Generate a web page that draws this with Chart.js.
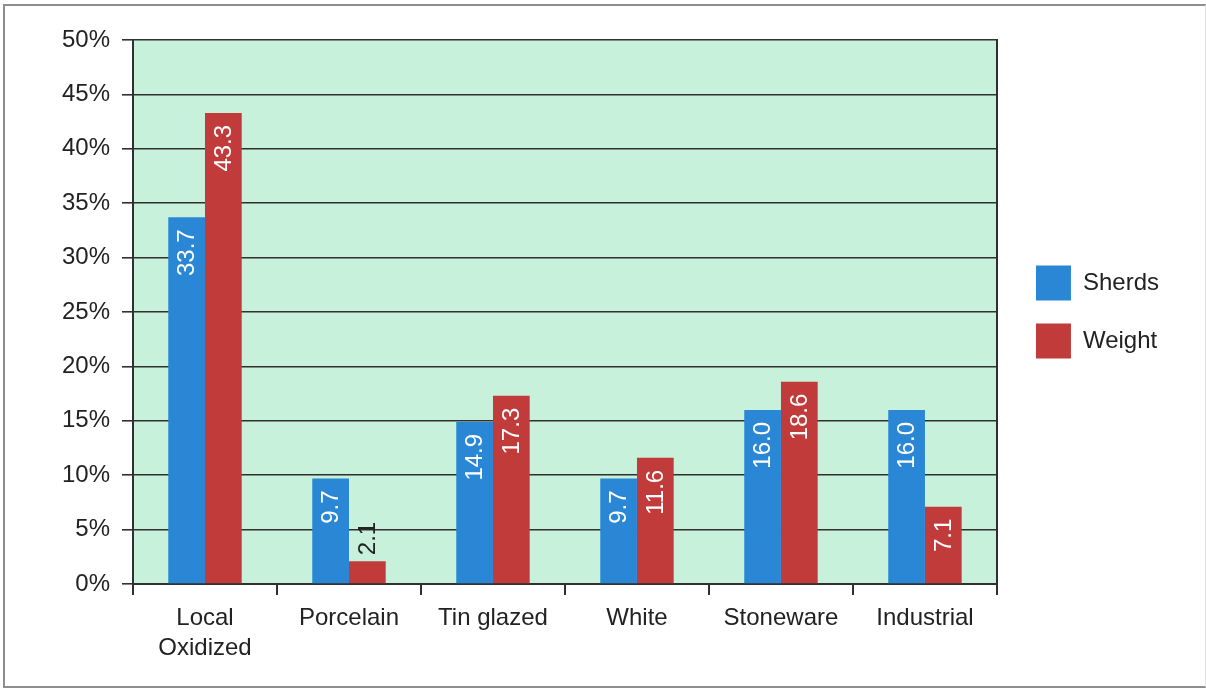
<!DOCTYPE html>
<html>
<head>
<meta charset="utf-8">
<script src="https://cdn.jsdelivr.net/npm/chart.js@4/dist/chart.umd.min.js"></script>
<style>
  html, body { margin: 0; padding: 0; background: #fff; }
  #frame {
    position: absolute; left: 3px; top: 4px; width: 1203px; height: 684px;
    box-sizing: border-box;
    border: 2px solid #8e8e8e; border-right: 1px solid #e2e2e2;
  }
  #chart { position: absolute; left: 0; top: 0; }
</style>
</head>
<body>
<div id="frame"></div>
<canvas id="chart" width="1206" height="688"></canvas>
<script>
// Share of each ware type, by sherd count and by weight (%)
const categories = [["Local", "Oxidized"], "Porcelain", "Tin glazed", "White", "Stoneware", "Industrial"]
const sherds = [33.7, 9.7, 14.9, 9.7, 16.0, 16.0]
const weight = [43.3, 2.1, 17.3, 11.6, 18.6, 7.1]
const yTicks = [0, 5, 10, 15, 20, 25, 30, 35, 40, 45, 50]

const FONT = "'Liberation Sans', Arial, Helvetica, sans-serif"
const INK = "#222"
const LINE = "#303030"

// Mint fill behind the bars
const plotBackground = {
  id: "plotBackground",
  beforeDraw(chart) {
    const { ctx, chartArea: a } = chart
    ctx.save()
    ctx.fillStyle = "#c7f1db"
    ctx.fillRect(a.left, a.top, a.right - a.left, a.bottom - a.top)
    ctx.restore()
  }
}

// Rotated value labels: inside the top of the bar, or above it when the bar is too short
const barValues = {
  id: "barValues",
  afterDatasetsDraw(chart) {
    const { ctx } = chart
    ctx.save()
    ctx.font = `24px ${FONT}`
    ctx.textBaseline = "middle"
    chart.data.datasets.forEach((ds, di) => {
      chart.getDatasetMeta(di).data.forEach((bar, i) => {
        const text = ds.data[i].toFixed(1)
        const w = ctx.measureText(text).width
        const h = bar.base - bar.y
        ctx.save()
        if (h > w + 16) {
          ctx.translate(bar.x, bar.y + 12)
          ctx.rotate(-Math.PI / 2)
          ctx.textAlign = "right"
          ctx.fillStyle = "#fff"
        } else {
          ctx.translate(bar.x, bar.y - 6)
          ctx.rotate(-Math.PI / 2)
          ctx.textAlign = "left"
          ctx.fillStyle = INK
        }
        ctx.fillText(text, 0, 1)
        ctx.restore()
      })
    })
    ctx.restore()
  }
}

new Chart(document.getElementById("chart"), {
  type: "bar",
  data: {
    labels: categories,
    datasets: [
      { label: "Sherds", data: sherds, backgroundColor: "#2a87d6", borderWidth: 0 },
      { label: "Weight", data: weight, backgroundColor: "#c13b3b", borderWidth: 0 }
    ]
  },
  options: {
    responsive: false,
    animation: false,
    categoryPercentage: 0.51,
    barPercentage: 1.0,
    layout: { padding: { top: 40, right: 37, bottom: 0, left: 0 } },
    scales: {
      x: {
        grid: { offset: true, drawOnChartArea: false, drawTicks: true, tickLength: 11, tickColor: LINE, lineWidth: 2 },
        border: { display: true, color: LINE, width: 2 },
        ticks: { color: INK, font: { family: FONT, size: 24, lineHeight: 1.25 }, padding: 8, maxRotation: 0 },
        afterFit(scale) { scale.height = 104 }
      },
      y: {
        min: 0,
        max: 50,
        afterBuildTicks(scale) { scale.ticks = yTicks.map(v => ({ value: v })) },
        grid: { color: LINE, lineWidth: 1.6, tickLength: 11, tickColor: LINE },
        border: { display: true, color: LINE, width: 2 },
        ticks: { color: INK, font: { family: FONT, size: 24 }, padding: 12, callback: v => `${v}%` },
        afterFit(scale) { scale.width = 133 }
      },
      // Closes the plot on the right and leaves a gap before the legend
      edge: {
        type: "linear",
        position: "right",
        grid: { drawOnChartArea: false, drawTicks: false },
        border: { display: true, color: LINE, width: 2 },
        ticks: { display: false },
        afterFit(scale) { scale.width = 16 }
      }
    },
    plugins: {
      legend: {
        position: "right",
        fullSize: false,
        labels: {
          boxWidth: 35,
          boxHeight: 35,
          padding: 23,
          color: INK,
          font: { family: FONT, size: 24 }
        }
      },
      tooltip: { enabled: false }
    }
  },
  plugins: [plotBackground, barValues]
})
</script>
</body>
</html>
